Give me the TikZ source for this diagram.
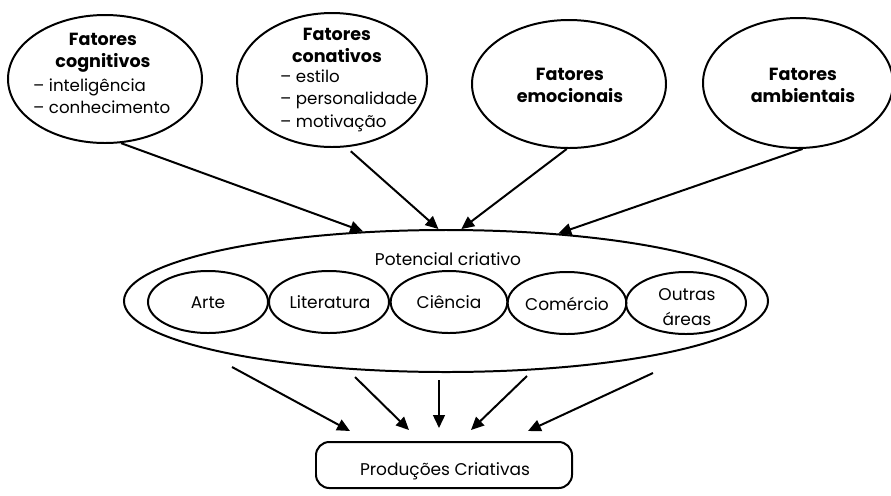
\documentclass[tikz,border=0pt]{standalone}
\usepackage{fontspec}
\setmainfont{Poppins}
\usetikzlibrary{arrows.meta,shapes.geometric}
\begin{document}
\begin{tikzpicture}[x=0.03cm,y=-0.03cm,
  ell/.style={draw,ellipse,line width=1.7pt,inner sep=0pt},
  arr/.style={line width=1.7pt,-{Triangle[length=11pt,width=10pt]}},
  fac/.style={font=\fontsize{15}{18}\selectfont\bfseries,inner sep=0pt,anchor=base},
  lst/.style={font=\fontsize{14.2}{17}\selectfont,inner sep=0pt,anchor=base west},
  lab/.style={font=\fontsize{14.5}{17}\selectfont,inner sep=0pt,anchor=base}]
\useasboundingbox[fill=white] (0,0) rectangle (891,495);

% top factor ellipses
\node[ell,minimum width=5.82cm,minimum height=3.84cm] (cog) at (105,79) {};
\node[ell,minimum width=5.7cm,minimum height=4.02cm] (con) at (332,80) {};
\node[ell,minimum width=5.82cm,minimum height=3.84cm] (emo) at (569,84) {};
\node[ell,minimum width=5.7cm,minimum height=3.9cm] (amb) at (798,83) {};

\node[fac] (cog1) at (103,45) {Fatores};
\node[fac] (cog2) at (103,67) {cognitivos};
\node[lst] (cog3) at (33,91) {– inteligência};
\node[lst] (cog4) at (33,113) {– conhecimento};

\node[fac] (con1) at (337,40) {Fatores};
\node[fac] (con2) at (337,62) {conativos};
\node[lst] (con3) at (280,82) {– estilo};
\node[lst] (con4) at (280,104) {– personalidade};
\node[lst] (con5) at (280,127) {– motivação};

\node[fac] (emo1) at (570,80) {Fatores};
\node[fac] (emo2) at (570,102) {emocionais};

\node[fac] (amb1) at (803,80) {Fatores};
\node[fac] (amb2) at (803,102) {ambientais};

% potential
\node[ell,minimum width=19.32cm,minimum height=4.26cm] (big) at (446,301) {};
\node[lab] (pot) at (448,265) {Potencial criativo};
\node[ell,minimum width=3.6cm,minimum height=1.86cm] (arte) at (208,302) {};
\node[ell,minimum width=3.6cm,minimum height=1.86cm] (lit) at (329,302) {};
\node[ell,minimum width=3.5cm,minimum height=1.86cm] (cie) at (449,302) {};
\node[ell,minimum width=3.56cm,minimum height=1.86cm] (com) at (567,303) {};
\node[ell,minimum width=3.6cm,minimum height=1.86cm] (out) at (686,303) {};
\node[lab] (arteT) at (208,308) {Arte};
\node[lab] (litT) at (330,308) {Literatura};
\node[lab] (cieT) at (449,308) {Ciência};
\node[lab] (comT) at (567,310) {Comércio};
\node[lab] (outT1) at (687,300) {Outras};
\node[lab] (outT2) at (687,325) {áreas};

% productions
\node[draw,line width=1.7pt,rounded corners=0.4cm,minimum width=7.68cm,minimum height=1.38cm,inner sep=0pt] (box) at (444,465) {};
\node[lab] (boxT) at (445,475) {Produções Criativas};

% top arrows
\draw[arr] (cog.-76) -- (big.140);
\draw[arr,shorten <=0.18cm] (con.-78) -- (big.96);
\draw[arr] (emo.-92) -- (big.78);
\draw[arr] (amb.-86) -- (big.31);

% bottom arrows
\coordinate (s1) at ([shift={(-214,66)}]big.center);
\coordinate (s2) at ([shift={(-91,76)}]big.center);
\coordinate (s3) at ([shift={(-7,79)}]big.center);
\coordinate (s4) at ([shift={(81,75)}]big.center);
\coordinate (s5) at ([shift={(207,72)}]big.center);
\draw[arr] (s1) -- ([shift={(-94,-10)}]box.north);
\draw[arr] (s2) -- ([shift={(-35,-11)}]box.north);
\draw[arr] (s3) -- ([shift={(-5,-13)}]box.north);
\draw[arr] (s4) -- ([shift={(27,-11)}]box.north);
\draw[arr] (s5) -- ([shift={(84,-10)}]box.north);
\end{tikzpicture}
\end{document}
